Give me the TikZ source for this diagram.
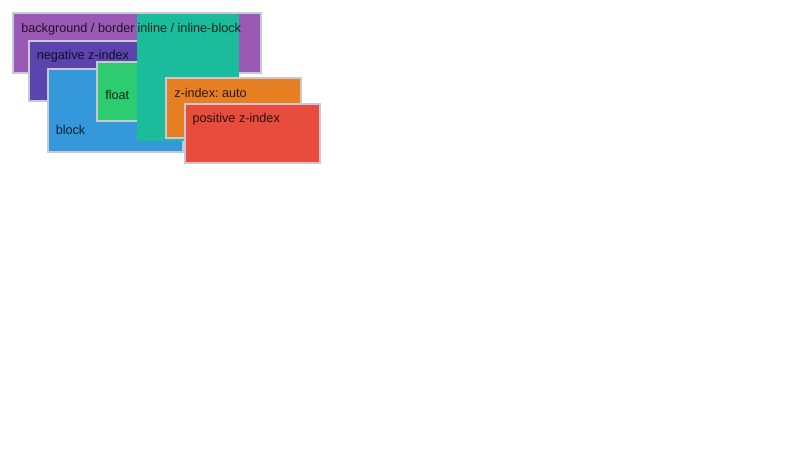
\documentclass[tikz,border=0pt]{standalone}
\usepackage{fontspec}
\setmainfont{Liberation Sans}
\frenchspacing
\definecolor{bordc}{HTML}{C9C9D6}
\definecolor{cpurple}{HTML}{9B59B6}
\definecolor{cindigo}{HTML}{5B44AE}
\definecolor{cblue}{HTML}{3498DB}
\definecolor{cgreen}{HTML}{2ECC71}
\definecolor{cteal}{HTML}{1ABC9C}
\definecolor{corange}{HTML}{E67E22}
\definecolor{cred}{HTML}{E74C3C}
\begin{document}
\begin{tikzpicture}[x=0.75pt,y=-0.75pt,
  layerbox/.style={draw=bordc,line width=1.5pt},
  lbl/.style={anchor=base west,inner sep=0pt,font=\fontsize{9.5pt}{11pt}\selectfont,text=black,text opacity=0.8}]
\useasboundingbox (0,0) rectangle (800,450);
% background / border
\path[layerbox,fill=cpurple] (13,13) rectangle (261,73);
\node[lbl] (tbg) at (21,32.3) {background / border};
% negative z-index
\path[layerbox,fill=cindigo] (29,41) rectangle (180,101);
\node[lbl] (tneg) at (36.5,59.5) {negative z-index};
% block
\path[layerbox,fill=cblue] (48,68.5) rectangle (183,151.5);
\node[lbl] (tblock) at (55.5,134) {block};
% float
\path[layerbox,fill=cgreen] (97,62) rectangle (180,121);
\node[lbl] (tfloat) at (105,99.3) {float};
% inline / inline-block
\fill[cteal] (137,14) rectangle (239,141);
\node[lbl] (tinline) at (137.3,32) {inline / inline-block};
% z-index: auto
\path[layerbox,fill=corange] (166,78) rectangle (301,138);
\node[lbl] (tauto) at (174,97) {z-index: auto};
% positive z-index
\path[layerbox,fill=cred] (184.5,103.5) rectangle (319.5,163);
\node[lbl] (tpos) at (192.3,122.5) {positive z-index};
\end{tikzpicture}
\end{document}
